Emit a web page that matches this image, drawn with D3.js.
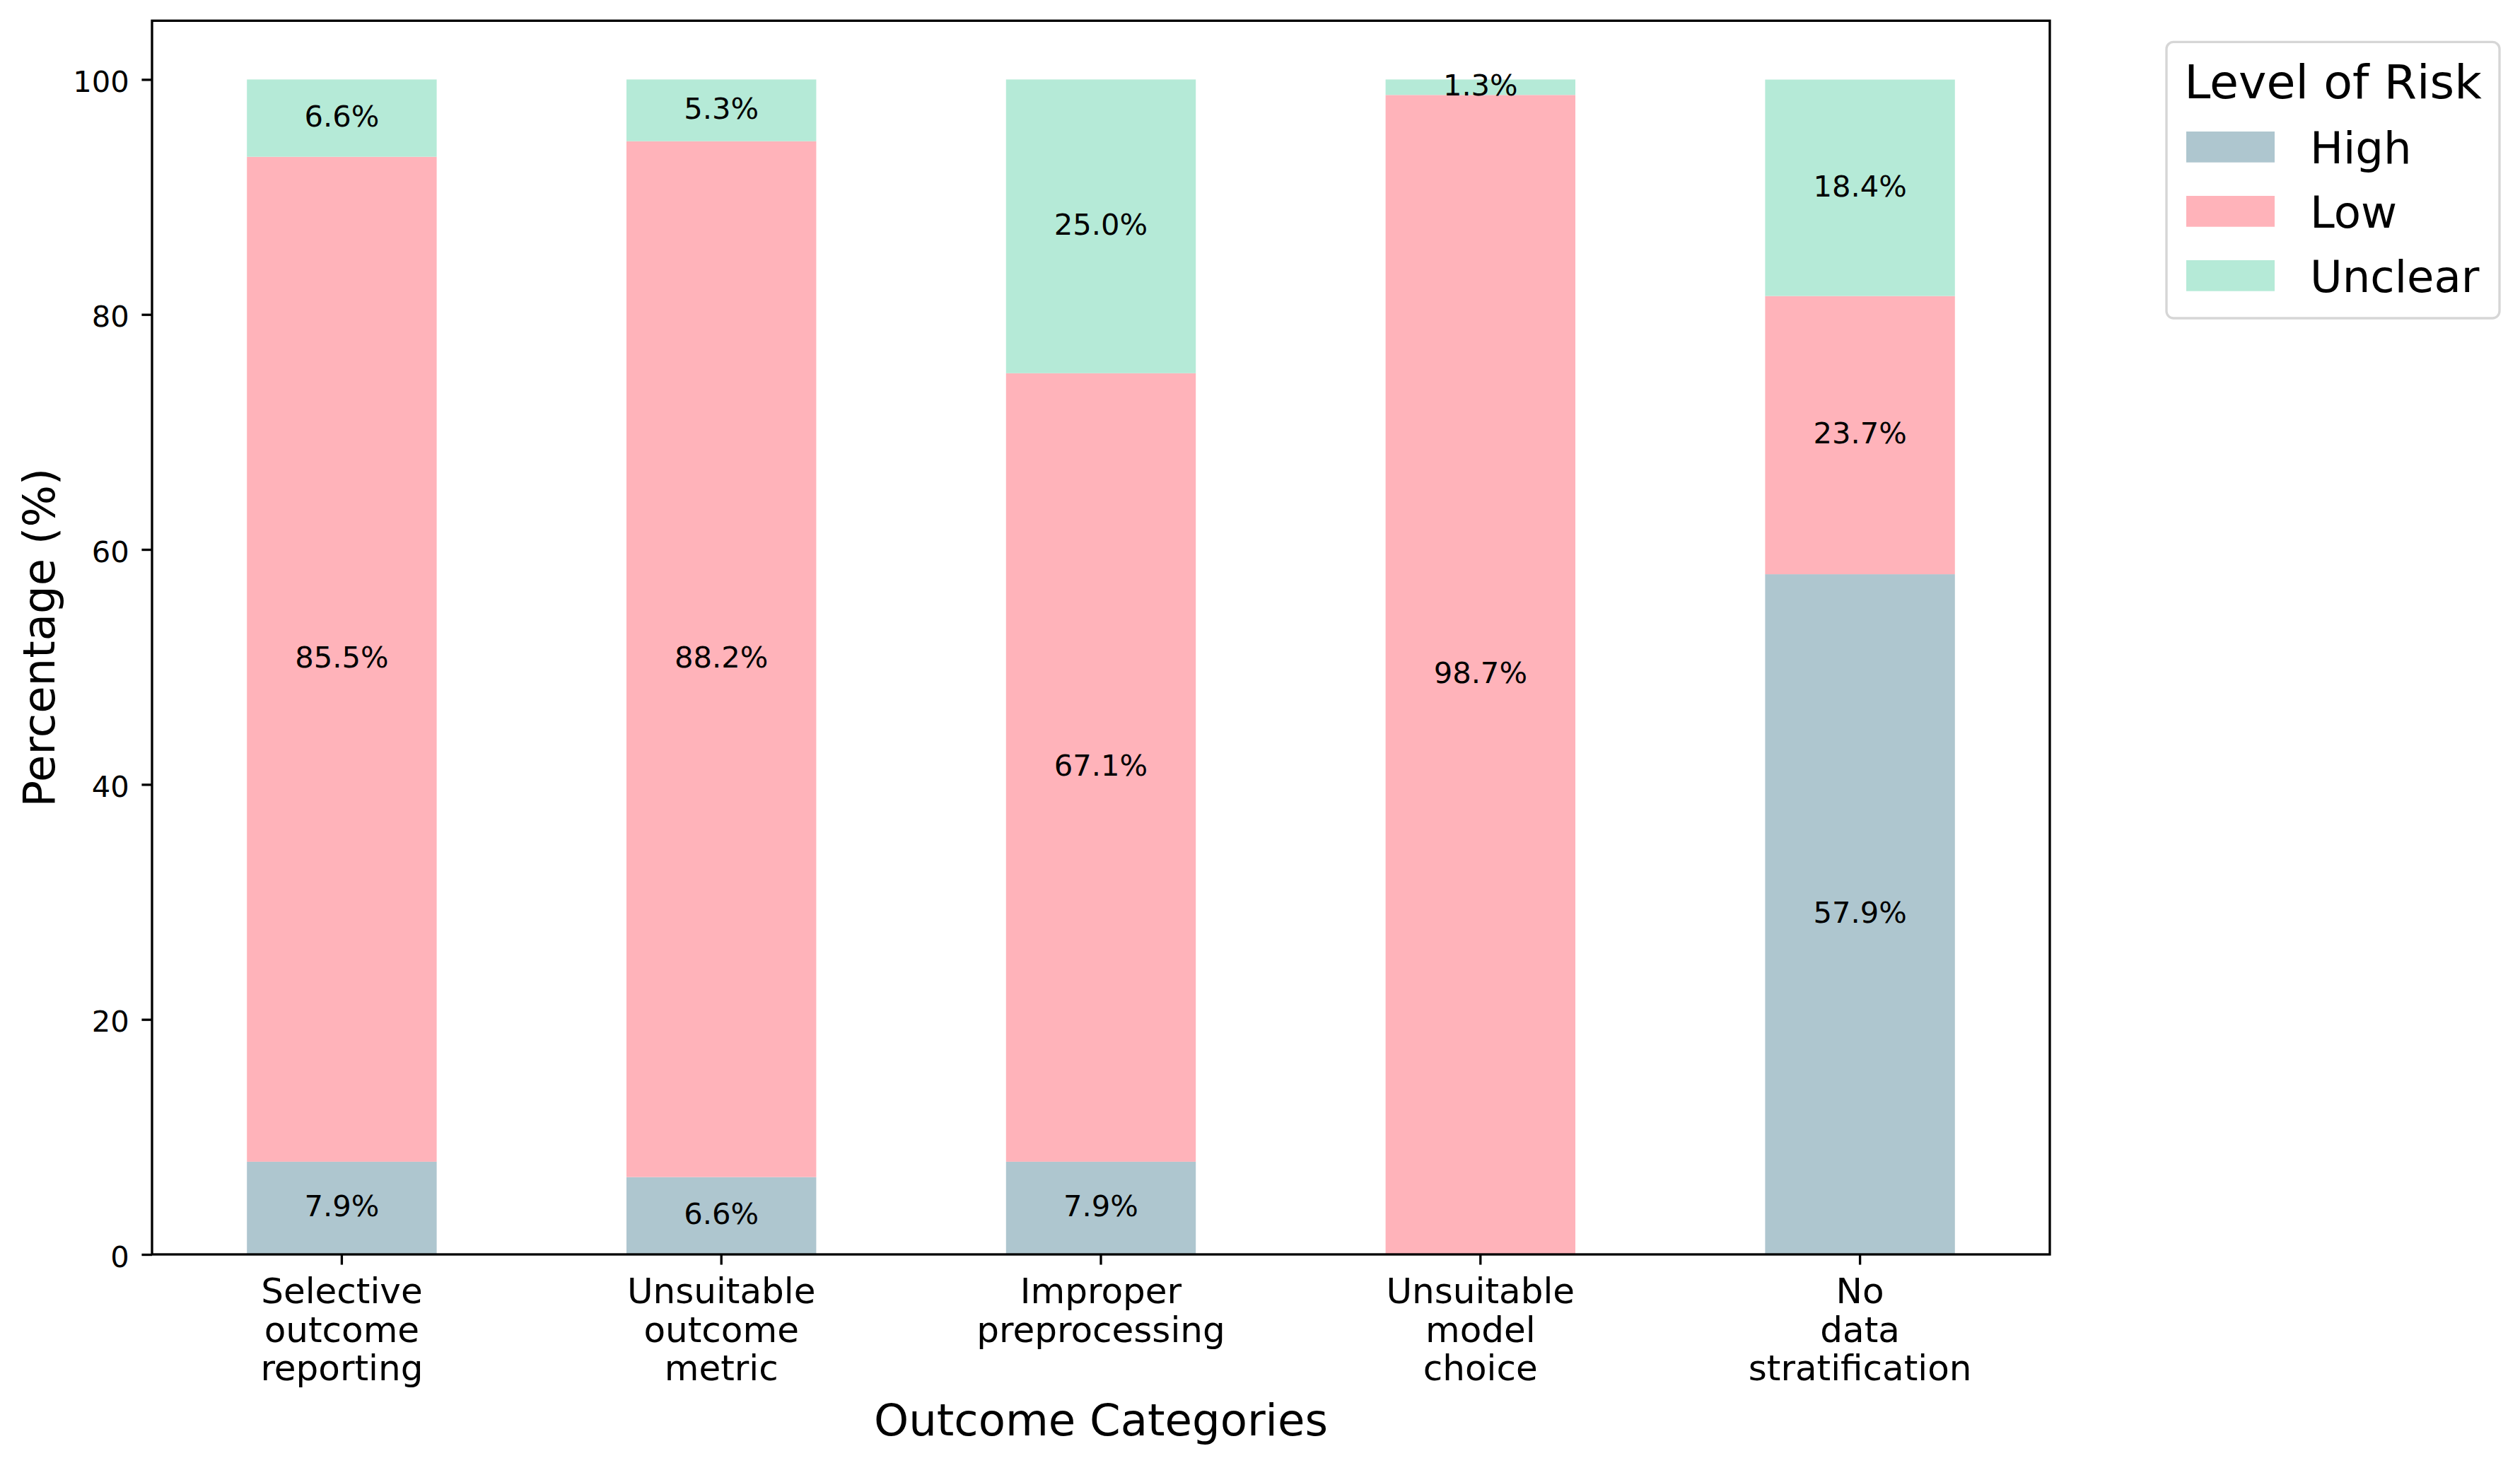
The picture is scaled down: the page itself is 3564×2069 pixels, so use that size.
<!DOCTYPE html>
<html>
<head>
<meta charset="utf-8">
<script src="https://cdn.jsdelivr.net/npm/d3@7"></script>
<style>
  html, body { margin: 0; padding: 0; background: #ffffff; }
  svg { display: block; font-family: "DejaVu Sans", sans-serif; }
</style>
</head>
<body>
<svg id="chart" width="3564" height="2069"></svg>
<script>
// ---- data ----
const categories = [
  ["Selective", "outcome", "reporting"],
  ["Unsuitable", "outcome", "metric"],
  ["Improper", "preprocessing"],
  ["Unsuitable", "model", "choice"],
  ["No", "data", "stratification"]
];
const seriesNames = ["High", "Low", "Unclear"];
const highValues    = [7.89, 6.58, 7.89, 0.0, 57.89];
const lowValues     = [85.53, 88.16, 67.11, 98.68, 23.68];
const unclearValues = [6.58, 5.26, 25.0, 1.32, 18.42];
const seriesColors  = ["#AEC6CF", "#FFB3BA", "#B5EAD7"];
const yTicks = [0, 20, 40, 60, 80, 100];
const xTitle = "Outcome Categories";
const yTitle = "Percentage (%)";
const legendTitle = "Level of Risk";

// ---- layout ----
const svg = d3.select("#chart");
const L = 215, R = 2899, T = 29.3, B = 1774;
const pt = 300 / 72;

const x = d3.scaleBand()
  .domain(d3.range(categories.length))
  .range([L, R])
  .paddingInner(0.5)
  .paddingOuter(0.25);
const y = d3.scaleLinear().domain([0, 105]).range([B, T]);

const rows = categories.map((c, i) => ({
  idx: i, High: highValues[i], Low: lowValues[i], Unclear: unclearValues[i]
}));
const stacked = d3.stack().keys(seriesNames)(rows);
const color = d3.scaleOrdinal().domain(seriesNames).range(seriesColors);

// bars
const layers = svg.append("g").selectAll("g")
  .data(stacked).join("g")
  .attr("fill", d => color(d.key));
layers.selectAll("rect")
  .data(d => d)
  .join("rect")
  .attr("x", d => x(d.data.idx))
  .attr("width", x.bandwidth())
  .attr("y", d => y(d[1]))
  .attr("height", d => y(d[0]) - y(d[1]));

// bar labels
const labelFont = 10 * pt;
layers.selectAll("text")
  .data(d => d.filter(s => s[1] - s[0] > 0))
  .join("text")
  .attr("x", d => x(d.data.idx) + x.bandwidth() / 2)
  .attr("y", d => (y(d[0]) + y(d[1])) / 2 + 12)
  .attr("text-anchor", "middle")
  .attr("font-size", labelFont)
  .attr("fill", "#000")
  .text(d => (d[1] - d[0]).toFixed(1) + "%");

// axes
const sw = 0.8 * pt;
const tickLen = 3.5 * pt;
const yAxis = d3.axisLeft(y).tickValues(yTicks).tickSize(tickLen).tickPadding(3.5 * pt).tickFormat(d3.format("d"));
const gy = svg.append("g").attr("transform", `translate(${L},0)`).call(yAxis);
gy.select(".domain").remove();
gy.selectAll(".tick line").attr("stroke", "#000").attr("stroke-width", sw);
gy.selectAll(".tick text")
  .attr("font-size", 10 * pt)
  .attr("font-family", "DejaVu Sans")
  .attr("fill", "#000")
  .attr("dy", null)
  .attr("y", 17)
  .attr("x", -(L - 182.7));

const xAxis = d3.axisBottom(x).tickSize(tickLen).tickFormat("");
const gx = svg.append("g").attr("transform", `translate(0,${B})`).call(xAxis);
gx.select(".domain").remove();
gx.selectAll(".tick line").attr("stroke", "#000").attr("stroke-width", sw);
gx.selectAll(".tick text").remove();

// x tick labels (multi-line)
const xl = svg.append("g").selectAll("text")
  .data(categories).join("text")
  .attr("text-anchor", "middle")
  .attr("font-size", 12 * pt)
  .attr("fill", "#000")
  .attr("transform", (d, i) => `translate(${x(i) + x.bandwidth() / 2},1843.3)`);
xl.selectAll("tspan")
  .data(d => d).join("tspan")
  .attr("x", 0)
  .attr("y", (d, j) => j * 54.5)
  .text(d => d);

// frame
svg.append("rect")
  .attr("x", L).attr("y", T)
  .attr("width", R - L).attr("height", B - T)
  .attr("fill", "none").attr("stroke", "#000").attr("stroke-width", sw);

// axis titles
svg.append("text")
  .attr("x", (L + R) / 2).attr("y", 2030)
  .attr("text-anchor", "middle")
  .attr("font-size", 15 * pt)
  .attr("fill", "#000")
  .text(xTitle);
svg.append("text")
  .attr("transform", `translate(77,${(T + B) / 2}) rotate(-90)`)
  .attr("text-anchor", "middle")
  .attr("font-size", 15 * pt)
  .attr("fill", "#000")
  .text(yTitle);

// legend
const lg = svg.append("g");
lg.append("rect")
  .attr("x", 3064).attr("y", 59.3)
  .attr("width", 3535 - 3064).attr("height", 450 - 59.3)
  .attr("rx", 10).attr("ry", 10)
  .attr("fill", "#fff").attr("stroke", "#d6d6d6").attr("stroke-width", sw);
lg.append("text")
  .attr("x", 3299.5).attr("y", 139.3)
  .attr("text-anchor", "middle")
  .attr("font-size", 16 * pt)
  .attr("fill", "#000")
  .text(legendTitle);
const items = lg.selectAll("g.item")
  .data(seriesNames).join("g")
  .attr("class", "item")
  .attr("transform", (d, i) => `translate(0,${i * 91})`);
items.append("rect")
  .attr("x", 3092).attr("y", 186)
  .attr("width", 125).attr("height", 43.7)
  .attr("fill", d => color(d));
items.append("text")
  .attr("x", 3267).attr("y", 230.7)
  .attr("font-size", 15 * pt)
  .attr("fill", "#000")
  .text(d => d);
</script>
</body>
</html>
